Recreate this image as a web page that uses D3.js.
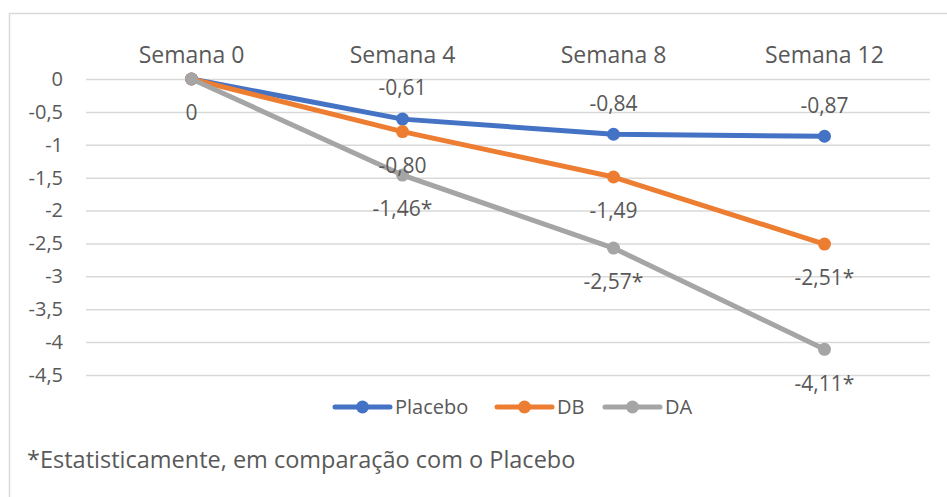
<!DOCTYPE html>
<html>
<head>
<meta charset="utf-8">
<script src="https://cdn.jsdelivr.net/npm/d3@7"></script>
<style>
  body { margin: 0; background: #fff; }
  svg { display: block; font-family: "Open Sans", sans-serif; }
</style>
</head>
<body>
<svg id="chart"></svg>
<script>
const semanas = ["Semana 0", "Semana 4", "Semana 8", "Semana 12"];
const placebo = [0, -0.61, -0.84, -0.87];
const db = [0, -0.80, -1.49, -2.51];
const da = [0, -1.46, -2.57, -4.11];
const placeboLabels = ["", "-0,61", "-0,84", "-0,87"];
const dbLabels = ["0", "-0,80", "-1,49", "-2,51*"];
const daLabels = ["", "-1,46*", "-2,57*", "-4,11*"];
const yTicks = [0, -0.5, -1, -1.5, -2, -2.5, -3, -3.5, -4, -4.5];
const footnote = "*Estatisticamente, em comparação com o Placebo";

const width = 947, height = 497;
const margin = {top: 79, right: 17, bottom: 122, left: 86};
const textColor = "#595959";

const series = [
  {name: "Placebo", values: placebo, labels: placeboLabels, color: "#4472C4", dy: -31},
  {name: "DB", values: db, labels: dbLabels, color: "#ED7D31", dy: 34},
  {name: "DA", values: da, labels: daLabels, color: "#A5A5A5", dy: 34}
];

const svg = d3.select("#chart")
    .attr("width", width)
    .attr("height", height);

// chart border (cropped: only top and left visible)
svg.append("path")
    .attr("d", `M9.5,${height}V13.5H${width}`)
    .attr("fill", "none")
    .attr("stroke", "#d9d9d9")
    .attr("stroke-width", 1.5);

const x = d3.scaleBand()
    .domain(semanas)
    .range([margin.left, width - margin.right]);

const y = d3.scaleLinear()
    .domain([0, -4.5])
    .range([margin.top, height - margin.bottom]);

const fmt = v => String(v).replace(".", ",");

// gridlines + y labels
const yAxis = svg.append("g")
    .attr("transform", `translate(${margin.left},0)`)
    .call(d3.axisLeft(y).tickValues(yTicks).tickFormat(fmt)
        .tickSize(-(width - margin.left - margin.right)).tickPadding(23));
yAxis.select(".domain").remove();
yAxis.selectAll(".tick line").attr("stroke", "#d9d9d9").attr("stroke-width", 1.5);
yAxis.selectAll(".tick text")
    .attr("fill", textColor)
    .attr("font-size", 20)
    .attr("font-family", "Open Sans, sans-serif");

// category labels at top
svg.append("g")
    .selectAll("text")
    .data(semanas)
    .join("text")
    .attr("x", d => x(d) + x.bandwidth() / 2)
    .attr("y", 55)
    .attr("dy", "0.35em")
    .attr("text-anchor", "middle")
    .attr("fill", textColor)
    .attr("font-size", 23)
    .text(d => d);

const cx = i => x(semanas[i]) + x.bandwidth() / 2;

const line = d3.line()
    .x((d, i) => cx(i))
    .y(d => y(d));

series.forEach(s => {
  svg.append("path")
      .datum(s.values)
      .attr("d", line)
      .attr("fill", "none")
      .attr("stroke", s.color)
      .attr("stroke-width", 5)
      .attr("stroke-linejoin", "round")
      .attr("stroke-linecap", "round");
  svg.append("g")
      .selectAll("circle")
      .data(s.values)
      .join("circle")
      .attr("cx", (d, i) => cx(i))
      .attr("cy", d => y(d))
      .attr("r", 6.5)
      .attr("fill", s.color);
});

// data labels on top
series.forEach(s => {
  svg.append("g")
      .selectAll("text")
      .data(s.values)
      .join("text")
      .attr("x", (d, i) => cx(i))
      .attr("y", d => y(d) + s.dy)
      .attr("dy", "0.35em")
      .attr("text-anchor", "middle")
      .attr("fill", textColor)
      .attr("font-size", 21)
      .text((d, i) => s.labels[i]);
});

// legend
const legendX = [335, 497, 605];
const legend = svg.append("g")
    .selectAll("g")
    .data(series)
    .join("g")
    .attr("transform", (d, i) => `translate(${legendX[i]},407)`);
legend.append("line")
    .attr("x1", 0).attr("x2", 55)
    .attr("stroke", d => d.color)
    .attr("stroke-width", 5)
    .attr("stroke-linecap", "round");
legend.append("circle")
    .attr("cx", 27.5)
    .attr("r", 6.5)
    .attr("fill", d => d.color);
legend.append("text")
    .attr("x", 60)
    .attr("dy", "0.35em")
    .attr("fill", textColor)
    .attr("font-size", 20)
    .text(d => d.name);

// footnote
svg.append("text")
    .attr("x", 27)
    .attr("y", 460)
    .attr("dy", "0.35em")
    .attr("fill", textColor)
    .attr("font-size", 23.5)
    .text(footnote);
</script>
</body>
</html>
